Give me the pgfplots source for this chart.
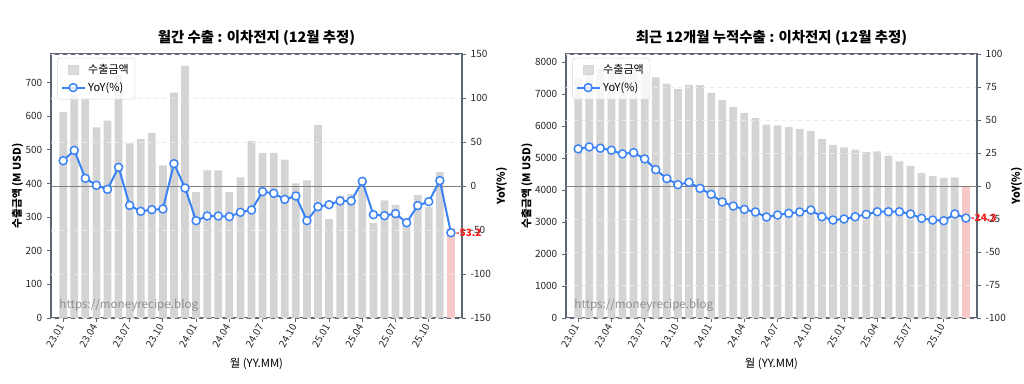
\documentclass[border=0pt]{standalone}
\usepackage{pgfplots}
\usepackage{pgfplotstable}
\pgfplotsset{compat=1.18}
\usepackage{fontspec}
\setmainfont{Noto Sans CJK KR}

\definecolor{barc}{HTML}{D4D4D4}
\definecolor{pinkc}{HTML}{F6C8C8}
\definecolor{bluec}{HTML}{3B82F6}
\definecolor{spinec}{HTML}{5F6673}
\definecolor{redc}{HTML}{FF1A1A}

\pgfplotstableread{
x m yoy
0 613 28.8
1 666 40.5
2 653 8.7
3 567 0.8
4 587 -3.8
5 722 21.2
6 519 -22.0
7 532 -28.8
8 550 -26.9
9 454 -26.1
10 670 25.4
11 750 -2.3
12 374 -39.4
13 439 -34.1
14 439 -34.1
15 374 -34.8
16 418 -29.9
17 527 -27.3
18 491 -6.4
19 491 -8.3
20 471 -15.2
21 400 -11.4
22 409 -39.4
23 574 -23.5
24 294 -21.2
25 364 -17.0
26 368 -17.0
27 392 5.3
28 283 -32.6
29 350 -33.7
30 336 -31.4
31 286 -41.7
32 366 -22.3
33 330 -17.8
34 434 6.1
35 269 -53.2
}\monthly

\pgfplotstableread{
x c yoy
0 7518 28.1
1 7755 29.6
2 7787 28.6
3 7789 27.1
4 7772 24.3
5 7890 25.3
6 7715 20.5
7 7530 12.4
8 7330 5.6
9 7160 1.0
10 7290 2.8
11 7283 -1.8
12 7044 -6.3
13 6817 -12.1
14 6603 -15.2
15 6420 -17.7
16 6250 -19.7
17 6050 -23.5
18 6030 -22.0
19 5980 -20.7
20 5915 -19.7
21 5855 -18.2
22 5600 -23.3
23 5420 -25.8
24 5340 -25.0
25 5270 -23.3
26 5200 -21.5
27 5210 -19.5
28 5080 -19.5
29 4900 -19.5
30 4760 -21.2
31 4540 -24.5
32 4440 -25.8
33 4380 -26.3
34 4400 -21.2
35 4093 -24.3
}\cumul

\pgfplotsset{
  common/.style={
    scale only axis, width=308.25pt, height=198pt,
    anchor=south west,
    xmin=-1.1, xmax=36,
    axis line style={spinec, line width=0.9pt},
    tick style={spinec, line width=0.6pt},
    major tick length=3pt,
    tick align=outside,
    ticklabel style={font=\fontsize{7.5}{9}\selectfont, text=black!85},
    /pgf/number format/assume math mode=true,
    /pgf/number format/1000 sep={},
    scaled y ticks=false,
  },
  barax/.style={common,
    xtick pos=bottom, ytick pos=left,
    xtick={0,3,...,33},
    xticklabels={23.01,23.04,23.07,23.10,24.01,24.04,24.07,24.10,25.01,25.04,25.07,25.10},
    xticklabel style={rotate=60, anchor=east, inner sep=2.5pt},
    xlabel={월 (YY.MM)},
    xlabel style={font=\fontsize{8.5}{10}\selectfont, yshift=0pt},
    ylabel style={font=\bfseries\fontsize{8}{10}\selectfont},
    ylabel shift=-5pt,
    title style={font=\bfseries\fontsize{10.8}{13}\selectfont, yshift=-3pt},
  },
  lineax/.style={common,
    clip=false,
    hide x axis, axis y line*=right,
    ymajorgrids, grid style={dashed, black!8, line width=0.4pt},
    ylabel={YoY(\%)},
    ylabel style={font=\bfseries\fontsize{8}{10}\selectfont},
    ylabel shift=-3pt,
    legend cell align=left,
    legend style={at={(0.015,0.985)}, anchor=north west, draw=black!15,
      rounded corners=2pt, fill=white, fill opacity=0.8, text opacity=1,
      font=\fontsize{8.3}{10}\selectfont, inner sep=2.5pt, row sep=1pt},
  },
  yoyline/.style={bluec, line width=1.5pt, mark=*, mark size=3pt,
    mark options={fill=white, draw=bluec, line width=1.1pt}},
}

\begin{document}
\begin{tikzpicture}
\path[use as bounding box] (0,0) rectangle (768pt,288pt);

% ---------- left chart ----------
\begin{axis}[barax, at={(38.25pt,49.5pt)},
  ymin=0, ymax=785, ytick={0,100,...,700},
  ylabel={수출금액 (M USD)},
  title={월간 수출 : 이차전지 (12월 추정)}]
\addplot[ybar, bar width=0.7, bar shift=0pt, fill=barc, draw=none, restrict x to domain=0:34.5] table[x=x, y=m]{\monthly};
\addplot[ybar, bar width=0.7, bar shift=0pt, fill=pinkc, draw=none] coordinates {(35,269)};
\node[anchor=south west, text=gray, opacity=0.85, font=\fontsize{8.7}{10}\selectfont, inner sep=0pt] at (rel axis cs:0.02,0.025) {https://moneyrecipe.blog};
\end{axis}
\begin{axis}[lineax, at={(38.25pt,49.5pt)},
  ymin=-150, ymax=150, ytick={-150,-100,...,150}]
\addplot[gray, line width=0.7pt, forget plot] coordinates {(-1.1,0) (36,0)};
\addlegendimage{only marks, mark=square*, mark size=3.5pt, barc}
\addlegendentry{수출금액}
\addplot[yoyline] table[x=x, y=yoy]{\monthly};
\addlegendentry{YoY(\%)}
\node[anchor=west, text=redc, font=\bfseries\fontsize{7.5}{9}\selectfont, inner sep=0pt, xshift=3.5pt] at (axis cs:35,-53.2) {-53.2};
\end{axis}

% ---------- right chart ----------
\begin{axis}[barax, at={(424.5pt,49.5pt)},
  ymin=0, ymax=8260, ytick={0,1000,...,8000},
  ylabel={수출금액 (M USD)},
  title={최근 12개월 누적수출 : 이차전지 (12월 추정)}]
\addplot[ybar, bar width=0.7, bar shift=0pt, fill=barc, draw=none, restrict x to domain=0:34.5] table[x=x, y=c]{\cumul};
\addplot[ybar, bar width=0.7, bar shift=0pt, fill=pinkc, draw=none] coordinates {(35,4093)};
\node[anchor=south west, text=gray, opacity=0.85, font=\fontsize{8.7}{10}\selectfont, inner sep=0pt] at (rel axis cs:0.02,0.025) {https://moneyrecipe.blog};
\end{axis}
\begin{axis}[lineax, at={(424.5pt,49.5pt)},
  ymin=-100, ymax=100, ytick={-100,-75,...,100}]
\addplot[gray, line width=0.7pt, forget plot] coordinates {(-1.1,0) (36,0)};
\addlegendimage{only marks, mark=square*, mark size=3.5pt, barc}
\addlegendentry{수출금액}
\addplot[yoyline] table[x=x, y=yoy]{\cumul};
\addlegendentry{YoY(\%)}
\node[anchor=west, text=redc, font=\bfseries\fontsize{7.5}{9}\selectfont, inner sep=0pt, xshift=3.5pt] at (axis cs:35,-24.3) {-24.3};
\end{axis}
\end{tikzpicture}
\end{document}
